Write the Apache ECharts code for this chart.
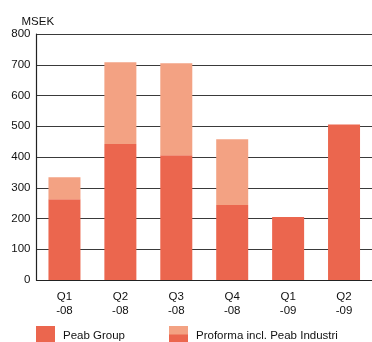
<!DOCTYPE html>
<html>
<head>
<meta charset="utf-8">
<script src="https://cdn.jsdelivr.net/npm/echarts@6/dist/echarts.min.js"></script>
<style>html,body{margin:0;padding:0;background:#fff;}#c{width:372px;height:342px;}</style>
</head>
<body>
<div id="c"></div>
<script>
const categories = ['Q1\n-08', 'Q2\n-08', 'Q3\n-08', 'Q4\n-08', 'Q1\n-09', 'Q2\n-09'];
const peabGroup = [263, 442, 406, 244, 205, 506];
const proformaTotal = [334, 708, 705, 458, 205, 506];
const yTicks = [0, 100, 200, 300, 400, 500, 600, 700, 800];
const seriesNames = ['Peab Group', 'Proforma incl. Peab Industri'];

const darkColor = '#EB664E';
const lightColor = '#F3A283';
const textColor = '#111';
const proformaExtra = proformaTotal.map((v, i) => v - peabGroup[i]);

const legendCommon = {
  top: 326,
  padding: 0,
  itemWidth: 19,
  itemHeight: 19,
  icon: 'rect',
  selectedMode: false,
  textStyle: {color: textColor, fontSize: 11.5, padding: [4, 0, 0, 3]}
};

const chart = echarts.init(document.getElementById('c'), null, {renderer: 'canvas'});
chart.setOption({
  animation: false,
  backgroundColor: '#fff',
  textStyle: {fontFamily: 'Liberation Sans, Arial, sans-serif'},
  grid: {left: 36.5, right: -4.5, top: 34, bottom: 62},
  xAxis: {
    type: 'category',
    data: categories,
    axisLine: {lineStyle: {color: '#222', width: 1.2}},
    axisTick: {show: false},
    axisLabel: {color: textColor, fontSize: 11.5, lineHeight: 14, margin: 10}
  },
  yAxis: {
    type: 'value',
    min: yTicks[0],
    max: yTicks[yTicks.length - 1],
    interval: 100,
    name: 'MSEK',
    nameLocation: 'end',
    nameGap: 6,
    nameTextStyle: {color: textColor, fontSize: 11.5, align: 'left', verticalAlign: 'bottom', padding: [0, 0, 0, -15]},
    axisLine: {show: true, lineStyle: {color: '#222', width: 1.2}},
    axisTick: {show: false},
    axisLabel: {color: textColor, fontSize: 11.5, margin: 6},
    splitLine: {lineStyle: {color: '#3a3a3a', width: 1.2}}
  },
  legend: [
    Object.assign({left: 36, data: [seriesNames[0]]}, legendCommon),
    Object.assign({left: 169, data: [seriesNames[1]]}, legendCommon)
  ],
  graphic: [
    {type: 'rect', left: 169, top: 334.5, shape: {width: 19, height: 11}, style: {fill: darkColor}, z: 100}
  ],
  series: [
    {
      name: seriesNames[0],
      type: 'bar',
      stack: 'total',
      barWidth: 32,
      itemStyle: {color: darkColor},
      data: peabGroup
    },
    {
      name: seriesNames[1],
      type: 'bar',
      stack: 'total',
      barWidth: 32,
      itemStyle: {color: lightColor},
      data: proformaExtra
    }
  ]
});
</script>
</body>
</html>
